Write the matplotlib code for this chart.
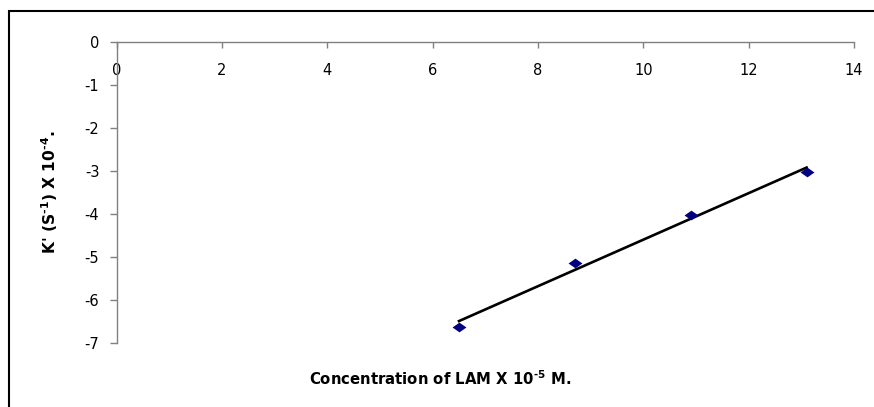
import numpy as np
import matplotlib
matplotlib.use('Agg')
import matplotlib.pyplot as plt
from matplotlib.patches import Rectangle

plt.rcParams['font.family'] = ['DejaVu Sans']
plt.rcParams['mathtext.fontset'] = 'dejavusans'
plt.rcParams['axes.unicode_minus'] = False

# measured rate constants vs. concentration
conc = [6.5, 8.7, 10.9, 13.1]
k_obs = [-6.63, -5.13, -4.03, -3.03]
x_ticks = [0, 2, 4, 6, 8, 10, 12, 14]
y_ticks = [0, -1, -2, -3, -4, -5, -6, -7]

W, H = 874, 407
fig = plt.figure(figsize=(W / 100, H / 100), dpi=100)
ax = fig.add_axes([116.7 / W, 1 - 343 / H, (854 - 116.7) / W, (343 - 42) / H])

# linear trendline over the data range
slope, intercept = np.polyfit(conc, k_obs, 1)
xfit = np.array([min(conc), max(conc)])
ax.plot(xfit, slope * xfit + intercept, color='black', lw=1.9, zorder=2)

# flattened diamond markers
diamond = [(-1, 0), (0, 0.7), (1, 0), (0, -0.7), (-1, 0)]
ax.plot(conc, k_obs, linestyle='none', marker=diamond, ms=10,
        color='#000080', mew=0, zorder=3)

ax.set_xlim(0, 14)
ax.set_ylim(-7, 0)
ax.set_xticks(x_ticks)
ax.set_yticks(y_ticks)
ax.set_xticklabels([str(v) for v in x_ticks])
ax.set_yticklabels([str(v) for v in y_ticks])

# x axis sits at y = 0 (top of plot), labels hang below it
ax.spines['bottom'].set_position(('data', 0))
ax.spines['right'].set_visible(False)
ax.spines['top'].set_visible(False)
for s in ('bottom', 'left'):
    ax.spines[s].set_color('#808080')
    ax.spines[s].set_linewidth(1.0)
ax.tick_params(axis='x', direction='out', length=4.3, width=1.0,
               color='#808080', labelsize=10.5, pad=10.5)
ax.tick_params(axis='y', direction='out', length=5, width=1.0,
               color='#808080', labelsize=10.5, pad=7.5)

fig.text(440 / W, 1 - 379 / H,
         'Concentration of LAM X 10$^{\\mathbf{\u2010}\\mathbf{5}}$ M.',
         ha='center', va='center', fontsize=10.7, fontweight='bold')
fig.text(50 / W, 1 - 192 / H,
         "K' (S$^{\\mathbf{\u2010}\\mathbf{1}}$) X 10$^{\\mathbf{\u2010}\\mathbf{4}}$.",
         ha='center', va='center', rotation=90, fontsize=11.2,
         fontweight='bold')

# chart frame
fig.patches.append(Rectangle((9 / W, -0.2), 1.2, 1 - 11 / H + 0.2,
                             transform=fig.transFigure, fill=False,
                             edgecolor='black', lw=1.5))

fig.savefig('out.png', dpi=100)
